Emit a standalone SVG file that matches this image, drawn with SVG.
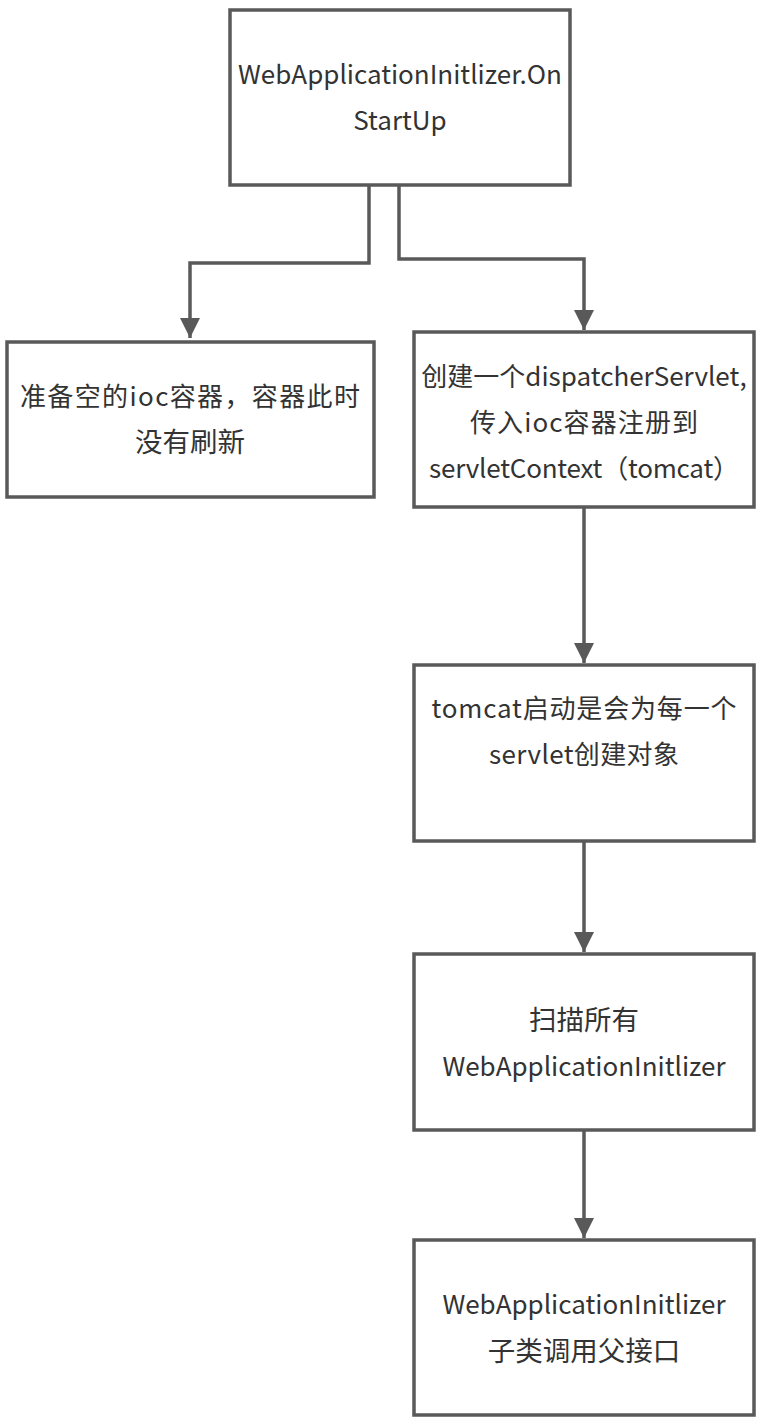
<svg xmlns="http://www.w3.org/2000/svg" width="760" height="1424" viewBox="0 0 760 1424">
<defs>
<marker id="ah" markerWidth="20" markerHeight="20" refX="20" refY="10" orient="auto" markerUnits="userSpaceOnUse">
<path d="M0,0 L20,10 L0,20 Z" fill="#595959"/>
</marker>
<style>
.box{fill:#ffffff;stroke:#595959;stroke-width:3.5}
.t{font-family:"Noto Sans CJK SC","Noto Sans",sans-serif;font-size:26px;fill:#333333;text-anchor:middle}
.cj{font-size:27.5px}
.c{fill:none;stroke:#595959;stroke-width:3.5}
</style>
</defs>
<rect width="760" height="1424" fill="#ffffff"/>
<g id="connectors">
<path class="c" d="M369,186 V263 H190 V338" marker-end="url(#ah)"/>
<path class="c" d="M399,186 V259 H584 V330" marker-end="url(#ah)"/>
<path class="c" d="M584,508 V663" marker-end="url(#ah)"/>
<path class="c" d="M584,841 V952" marker-end="url(#ah)"/>
<path class="c" d="M584,1131 V1238" marker-end="url(#ah)"/>
</g>
<g id="n1">
<rect class="box" x="230" y="10" width="340" height="175"/>
<text class="t" x="400" y="84">WebApplicationInitlizer.On</text>
<text class="t" x="400" y="130">StartUp</text>
</g>
<g id="n2">
<rect class="box" x="7" y="342" width="367" height="155"/>
<text class="t" x="190" y="406" textLength="340">准备空的ioc容器，容器此时</text>
<text class="t cj" x="190" y="452">没有刷新</text>
</g>
<g id="n3">
<rect class="box" x="414" y="332" width="340" height="175"/>
<text class="t" x="584" y="386">创建一个dispatcherServlet,</text>
<text class="t" x="584" y="432" textLength="228">传入ioc容器注册到</text>
<text class="t" x="584" y="478" textLength="310">servletContext（tomcat）</text>
</g>
<g id="n4">
<rect class="box" x="414" y="665" width="340" height="176"/>
<text class="t" x="584" y="718" textLength="305">tomcat启动是会为每一个</text>
<text class="t" x="584" y="764" textLength="190">servlet创建对象</text>
</g>
<g id="n5">
<rect class="box" x="414" y="954" width="340" height="176"/>
<text class="t cj" x="584" y="1030">扫描所有</text>
<text class="t" x="584" y="1076">WebApplicationInitlizer</text>
</g>
<g id="n6">
<rect class="box" x="414" y="1240" width="340" height="175"/>
<text class="t" x="584" y="1314">WebApplicationInitlizer</text>
<text class="t cj" x="584" y="1361">子类调用父接口</text>
</g>
</svg>
